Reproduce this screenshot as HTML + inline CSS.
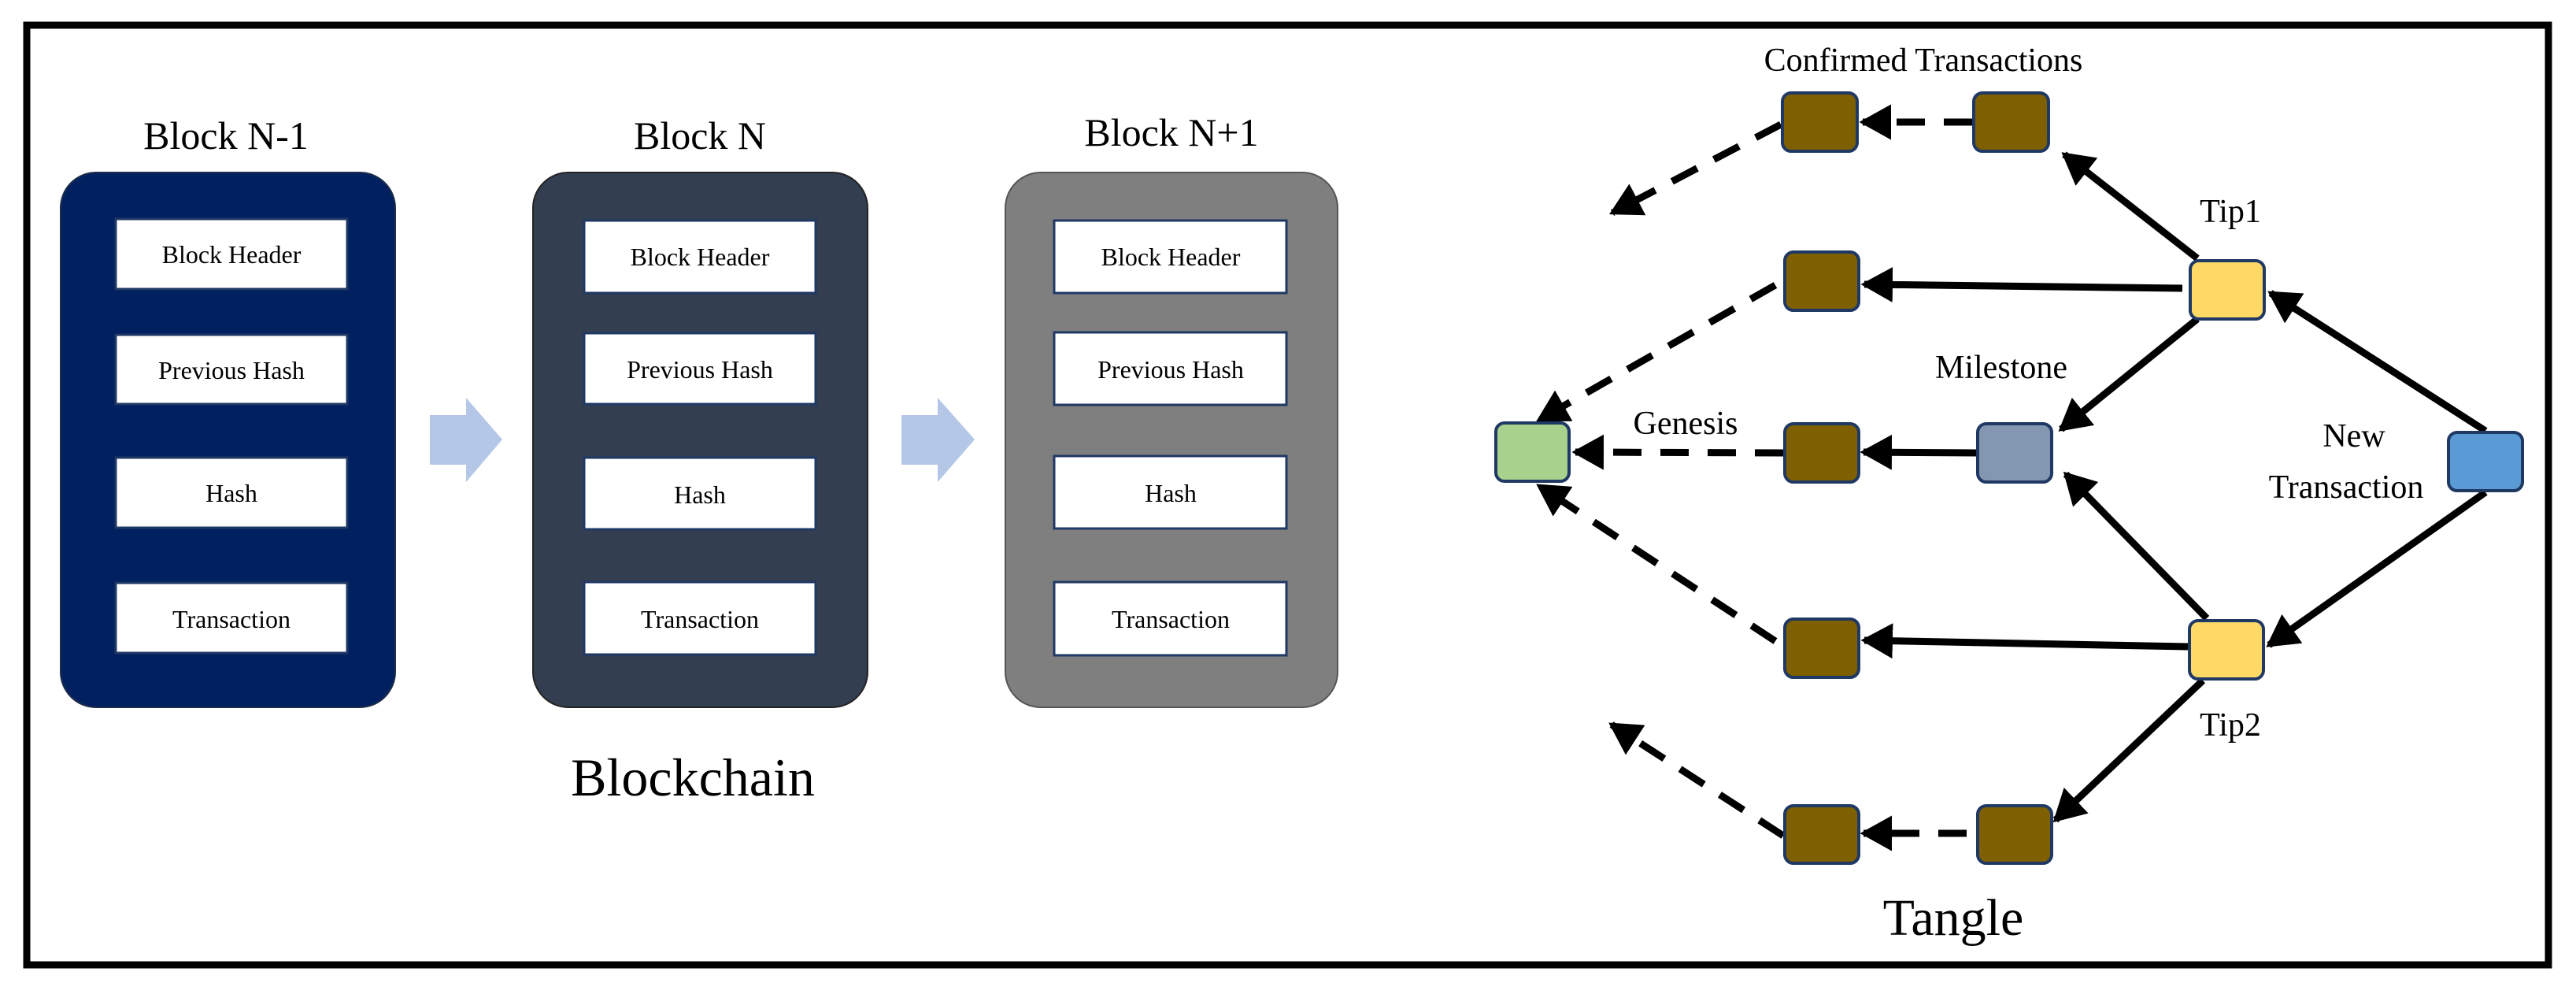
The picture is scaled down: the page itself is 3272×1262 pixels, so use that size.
<!DOCTYPE html>
<html><head><style>html,body{margin:0;padding:0;background:#fff}svg{display:block}</style></head><body>
<svg width="3272" height="1262" viewBox="0 0 3272 1262" xmlns="http://www.w3.org/2000/svg" font-family="Liberation Serif, serif">
<defs>
<marker id="ah" markerWidth="4.5" markerHeight="5" refX="4" refY="2.5" orient="auto" markerUnits="strokeWidth"><path d="M0,0 L4.5,2.5 L0,5 z" fill="#000"/></marker>
</defs>
<rect x="34" y="32" width="3203" height="1193" fill="#fff" stroke="#000" stroke-width="9"/>
<!-- Blocks -->
<g font-size="50" text-anchor="middle" fill="#000">
<text x="287" y="189">Block N-1</text>
<text x="889" y="189">Block N</text>
<text x="1488" y="185">Block N+1</text>
</g>
<rect x="77" y="219" width="425" height="679" rx="45" fill="#002060" stroke="#1f2d4a" stroke-width="2"/>
<rect x="677" y="219" width="425" height="679" rx="45" fill="#333f50" stroke="#222" stroke-width="2"/>
<rect x="1277" y="219" width="422" height="679" rx="45" fill="#7f7f7f" stroke="#555" stroke-width="2"/>
<g fill="#fff" stroke="#1f3864" stroke-width="3">
<rect x="147" y="278" width="294" height="89"/><rect x="147" y="425" width="294" height="88"/><rect x="147" y="581" width="294" height="89"/><rect x="147" y="740" width="294" height="89"/>
<rect x="742" y="280" width="294" height="92"/><rect x="742" y="423" width="294" height="90"/><rect x="742" y="581" width="294" height="91"/><rect x="742" y="739" width="294" height="92"/>
<rect x="1339" y="280" width="295" height="92"/><rect x="1339" y="422" width="295" height="92"/><rect x="1339" y="579" width="295" height="92"/><rect x="1339" y="739" width="295" height="93"/>
</g>
<g font-size="32" text-anchor="middle" fill="#000">
<text x="294" y="334">Block Header</text><text x="294" y="481">Previous Hash</text><text x="294" y="637">Hash</text><text x="294" y="797">Transaction</text>
<text x="889" y="337">Block Header</text><text x="889" y="480">Previous Hash</text><text x="889" y="639">Hash</text><text x="889" y="797">Transaction</text>
<text x="1487" y="337">Block Header</text><text x="1487" y="480">Previous Hash</text><text x="1487" y="637">Hash</text><text x="1487" y="797">Transaction</text>
</g>
<path d="M546,527 H592 V505 L638,558 L592,612 V590 H546 z" fill="#b4c7e7"/>
<path d="M1145,527 H1191 V505 L1238,558 L1191,612 V590 H1145 z" fill="#b4c7e7"/>
<text x="880" y="1010" font-size="68" text-anchor="middle">Blockchain</text>
<!-- Tangle edges -->
<g stroke="#000" stroke-width="9" fill="none" marker-end="url(#ah)">
<line x1="2791" y1="328" x2="2622" y2="196"/>
<line x1="2772" y1="366" x2="2368" y2="361"/>
<line x1="2791" y1="405" x2="2618" y2="545"/>
<line x1="3157" y1="547" x2="2884" y2="372"/>
<line x1="3157" y1="625" x2="2882" y2="819"/>
<line x1="2803" y1="785" x2="2624" y2="602"/>
<line x1="2779" y1="821" x2="2368" y2="813"/>
<line x1="2798" y1="864" x2="2611" y2="1041"/>
<line x1="2512" y1="575" x2="2367" y2="574"/>
</g>
<g stroke="#000" stroke-width="9" fill="none" stroke-dasharray="36,24" marker-end="url(#ah)">
<line x1="2505" y1="155" x2="2366" y2="155"/>
<line x1="2262" y1="158" x2="2048" y2="270"/>
<line x1="2255" y1="362" x2="1955" y2="533"/>
<line x1="2265" y1="575" x2="2001" y2="574"/>
<line x1="2255" y1="814" x2="1955" y2="617"/>
<line x1="2265" y1="1061" x2="2047" y2="920"/>
<line x1="2498" y1="1058" x2="2367" y2="1058"/>
</g>
<!-- Tangle nodes -->
<g stroke="#1f3864" stroke-width="4">
<rect x="2264" y="118" width="95" height="74" rx="11" fill="#7f6000"/>
<rect x="2507" y="118" width="95" height="74" rx="11" fill="#7f6000"/>
<rect x="2267" y="320" width="94" height="74" rx="11" fill="#7f6000"/>
<rect x="2782" y="331" width="94" height="74" rx="11" fill="#ffd966"/>
<rect x="2512" y="538" width="94" height="74" rx="11" fill="#8497b0"/>
<rect x="2267" y="538" width="94" height="74" rx="11" fill="#7f6000"/>
<rect x="1900" y="537" width="93" height="74" rx="11" fill="#a9d18e"/>
<rect x="3110" y="549" width="94" height="74" rx="11" fill="#5b9bd5"/>
<rect x="2267" y="786" width="94" height="74" rx="11" fill="#7f6000"/>
<rect x="2781" y="788" width="94" height="74" rx="11" fill="#ffd966"/>
<rect x="2267" y="1023" width="94" height="73" rx="11" fill="#7f6000"/>
<rect x="2512" y="1023" width="94" height="73" rx="11" fill="#7f6000"/>
</g>
<g font-size="42" text-anchor="middle" fill="#000">
<text x="2443" y="90">Confirmed Transactions</text>
<text x="2833" y="282">Tip1</text>
<text x="2542" y="480">Milestone</text>
<text x="2141" y="551">Genesis</text>
<text x="2990" y="567">New</text>
<text x="2980" y="632">Transaction</text>
<text x="2833" y="934">Tip2</text>
</g>
<text x="2481" y="1187" font-size="66" text-anchor="middle">Tangle</text>
</svg>
</body></html>
